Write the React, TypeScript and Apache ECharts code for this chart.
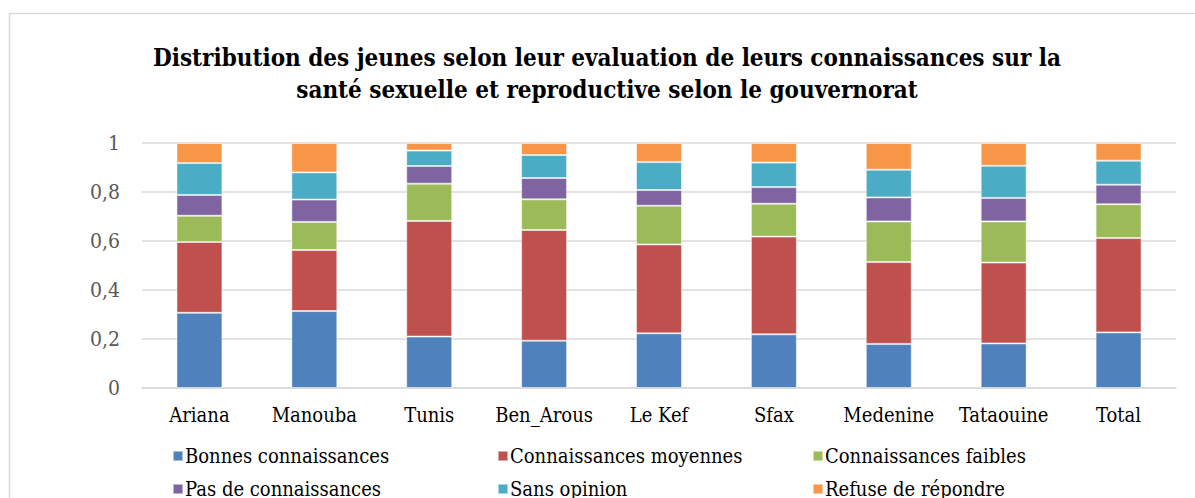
import React, { useEffect, useRef } from "react";
import * as echarts from "echarts";

const categories = ["Ariana", "Manouba", "Tunis", "Ben_Arous", "Le Kef", "Sfax", "Medenine", "Tataouine", "Total"];
const seriesNames = [
  "Bonnes connaissances",
  "Connaissances moyennes",
  "Connaissances faibles",
  "Pas de connaissances",
  "Sans opinion",
  "Refuse de répondre",
];
const bonnes = [0.307, 0.314, 0.21, 0.193, 0.223, 0.219, 0.18, 0.182, 0.227];
const moyennes = [0.289, 0.249, 0.472, 0.452, 0.363, 0.399, 0.334, 0.33, 0.385];
const faibles = [0.107, 0.115, 0.152, 0.125, 0.158, 0.134, 0.166, 0.168, 0.138];
const pasDe = [0.085, 0.091, 0.072, 0.087, 0.064, 0.068, 0.098, 0.096, 0.08];
const sansOpinion = [0.13, 0.111, 0.063, 0.094, 0.114, 0.1, 0.113, 0.131, 0.098];
const refuse = [0.082, 0.12, 0.031, 0.049, 0.078, 0.08, 0.109, 0.093, 0.072];
const yTicks = [0, 0.2, 0.4, 0.6, 0.8, 1];
const titleLines = [
  "Distribution des jeunes selon leur evaluation de leurs connaissances sur la",
  "santé sexuelle et reproductive selon le gouvernorat",
];

const colors = ["#4F81BD", "#C0504D", "#9BBB59", "#8064A2", "#4BACC6", "#F79646"];
const FONT = "'DejaVu Serif Condensed', 'DejaVu Serif', serif";

export default function App() {
  const ref = useRef<HTMLDivElement>(null);
  useEffect(() => {
    if (!ref.current) return;
    const chart = echarts.init(ref.current, null, { renderer: "svg" });
    const values = [bonnes, moyennes, faibles, pasDe, sansOpinion, refuse];
    const legendCols = [
      { left: 172, data: [seriesNames[0], seriesNames[3]] },
      { left: 497, data: [seriesNames[1], seriesNames[4]] },
      { left: 812, data: [seriesNames[2], seriesNames[5]] },
    ];
    chart.setOption({
      animation: false,
      color: colors,
      graphic: [
        {
          type: "rect",
          shape: { x: 9.5, y: 13.5, width: 1300, height: 600 },
          style: { fill: "none", stroke: "#d9d9d9", lineWidth: 1.5 },
          silent: true,
        },
        ...titleLines.map((t, i) => ({
          type: "text",
          x: 607,
          y: 57 + i * 32,
          style: {
            text: t,
            align: "center",
            verticalAlign: "middle",
            font: `bold 24px ${FONT}`,
            fill: "#000",
          },
        })),
      ],
      legend: legendCols.map((c) => ({
        orient: "vertical",
        left: c.left,
        top: 445,
        height: 120,
        padding: 0,
        itemWidth: 10,
        itemHeight: 10,
        itemGap: 11,
        icon: "rect",
        data: c.data,
        textStyle: { fontFamily: FONT, fontSize: 20, color: "#000", lineHeight: 22, padding: [0, 0, 0, -3] },
      })),
      grid: { left: 142, right: 19, top: 143, bottom: 110, containLabel: false },
      xAxis: {
        type: "category",
        data: categories,
        axisTick: { show: false },
        axisLine: { lineStyle: { color: "#d9d9d9", width: 1.5 } },
        axisLabel: { fontFamily: FONT, fontSize: 20, color: "#000", margin: 17, interval: 0 },
      },
      yAxis: {
        type: "value",
        min: yTicks[0],
        max: yTicks[yTicks.length - 1],
        interval: 0.2,
        axisLine: { show: false },
        axisTick: { show: false },
        splitLine: { lineStyle: { color: "#d9d9d9", width: 1.5 } },
        axisLabel: {
          fontFamily: FONT,
          fontSize: 21,
          color: "#595959",
          margin: 22,
          formatter: (v: number) => String(Math.round(v * 10) / 10).replace(".", ","),
        },
      },
      series: values.map((arr, i) => ({
        name: seriesNames[i],
        type: "bar",
        stack: "total",
        barWidth: "40%",
        data: arr,
        itemStyle: { borderColor: "rgba(255,255,255,0.5)", borderWidth: 1 },
      })),
    });
    return () => chart.dispose();
  }, []);
  return (
    <div
      ref={ref}
      style={{ position: "fixed", left: 0, top: 0, width: 1195, height: 498, background: "#fff" }}
    />
  );
}
